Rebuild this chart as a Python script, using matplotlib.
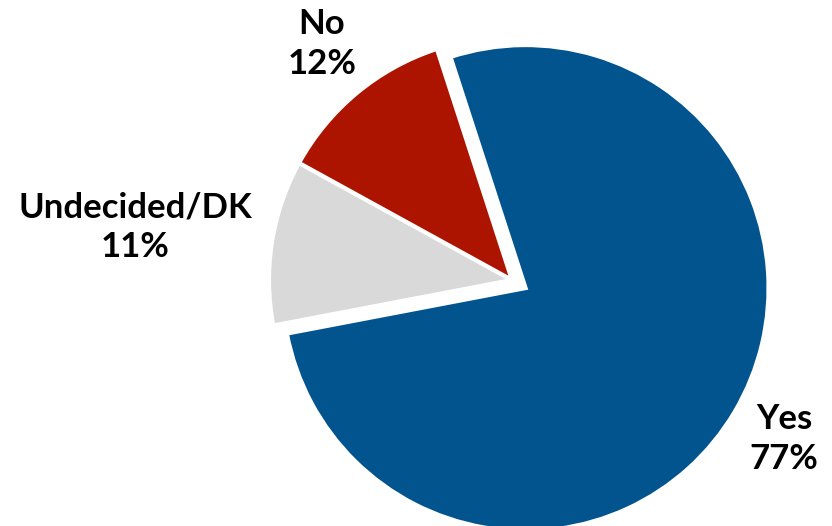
import matplotlib
matplotlib.use("Agg")
import matplotlib.pyplot as plt

# Survey responses
categories = ["Yes", "Undecided/DK", "No"]
shares = [77, 11, 12]
colors = ["#02548F", "#D9D9D9", "#AD1400"]
explode = [0.065, 0.0, 0.0]

plt.rcParams["font.family"] = ["Lato", "DejaVu Sans"]

fig = plt.figure(figsize=(8.32, 5.26), dpi=100)
ax = fig.add_axes([0, 0, 1, 1])

ax.pie(shares, colors=colors, explode=explode, startangle=108,
       counterclock=False, radius=1.0,
       wedgeprops=dict(edgecolor="white", linewidth=3))

ax.set_xlim(-2.107, 1.317)
ax.set_ylim(-1.012, 1.152)
ax.set_aspect("equal")
ax.axis("off")

label_pos = {"Yes": (1.12, -0.655), "Undecided/DK": (-1.551, 0.218), "No": (-0.782, 0.97)}
for cat, val in zip(categories, shares):
    x, y = label_pos[cat]
    ax.text(x, y, f"{cat}\n{val}%", ha="center", va="center",
            fontsize=25, fontweight="bold", linespacing=1.3, color="black")

fig.savefig("out.png", dpi=100)
